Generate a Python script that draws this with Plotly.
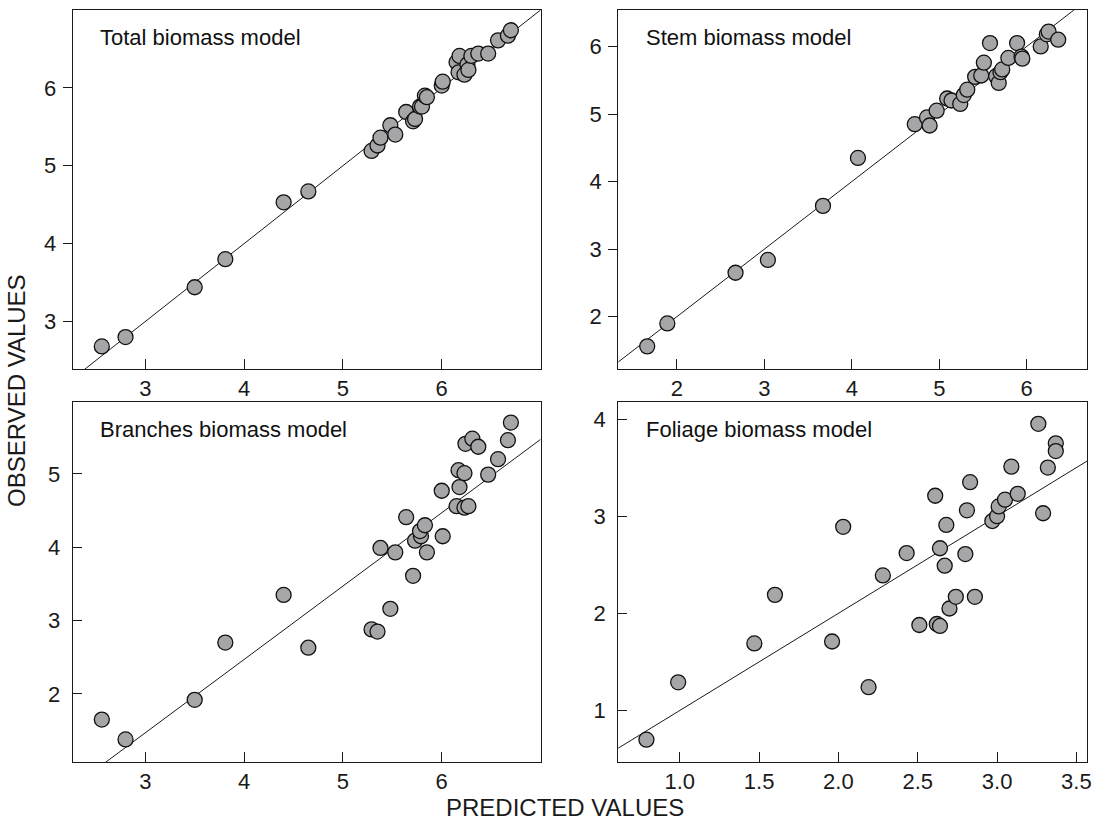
import plotly.graph_objects as go

# ---------------- data ----------------
panel_titles = ["Total biomass model", "Stem biomass model",
                "Branches biomass model", "Foliage biomass model"]

total_pred = [2.56, 2.80, 3.50, 3.81, 4.40, 4.65, 5.29, 5.35, 5.38, 5.48, 5.53, 5.64,
              5.71, 5.73, 5.78, 5.80, 5.83, 5.85, 6.00, 6.01, 6.15, 6.17, 6.18, 6.23,
              6.26, 6.27, 6.30, 6.37, 6.47, 6.57, 6.67, 6.70]
total_obs = [2.68, 2.80, 3.44, 3.80, 4.53, 4.67, 5.19, 5.26, 5.36, 5.52, 5.40, 5.69,
             5.57, 5.60, 5.76, 5.76, 5.90, 5.88, 6.03, 6.08, 6.33, 6.20, 6.41, 6.17,
             6.30, 6.23, 6.41, 6.44, 6.44, 6.61, 6.67, 6.74]

stem_pred = [1.66, 1.89, 2.67, 3.04, 3.67, 4.07, 4.72, 4.86, 4.89, 4.97, 5.09, 5.14,
             5.24, 5.28, 5.32, 5.41, 5.48, 5.51, 5.58, 5.65, 5.68, 5.70, 5.72, 5.79,
             5.89, 5.94, 5.95, 6.16, 6.23, 6.25, 6.36]
stem_obs = [1.56, 1.90, 2.65, 2.84, 3.64, 4.35, 4.85, 4.95, 4.83, 5.05, 5.23, 5.20,
            5.15, 5.28, 5.36, 5.55, 5.57, 5.76, 6.05, 5.56, 5.46, 5.62, 5.66, 5.83,
            6.05, 5.85, 5.82, 6.00, 6.18, 6.22, 6.10]

branch_pred = [2.56, 2.80, 3.50, 3.81, 4.40, 4.65, 5.29, 5.35, 5.38, 5.48, 5.53, 5.64,
               5.71, 5.73, 5.79, 5.78, 5.83, 5.85, 6.01, 6.00, 6.15, 6.18, 6.17, 6.23,
               6.23, 6.27, 6.24, 6.31, 6.37, 6.47, 6.57, 6.67, 6.70]
branch_obs = [1.65, 1.38, 1.92, 2.70, 3.35, 2.63, 2.88, 2.85, 3.99, 3.16, 3.93, 4.41,
              3.61, 4.09, 4.15, 4.22, 4.30, 3.93, 4.15, 4.77, 4.56, 4.82, 5.05, 5.01,
              4.54, 4.56, 5.41, 5.48, 5.37, 4.99, 5.20, 5.46, 5.70]

foliage_pred = [0.79, 0.99, 1.47, 1.60, 1.96, 2.03, 2.19, 2.28, 2.43, 2.51, 2.61, 2.62,
                2.64, 2.64, 2.67, 2.68, 2.70, 2.74, 2.80, 2.81, 2.83, 2.86, 2.97, 3.00,
                3.01, 3.05, 3.09, 3.13, 3.26, 3.29, 3.32, 3.37, 3.37]
foliage_obs = [0.70, 1.29, 1.69, 2.19, 1.71, 2.89, 1.24, 2.39, 2.62, 1.88, 3.21, 1.89,
               1.87, 2.67, 2.49, 2.91, 2.05, 2.17, 2.61, 3.06, 3.35, 2.17, 2.95, 3.00,
               3.10, 3.17, 3.51, 3.23, 3.95, 3.03, 3.50, 3.75, 3.67]

# reference lines: observed = intercept + slope * predicted
line_intercept = [0.0, 0.0, -1.53, 0.0]
line_slope = [1.0, 1.0, 1.0, 1.0]

x_ranges = [[2.265, 7.0], [1.328, 6.69], [2.265, 7.0], [0.612, 3.567]]
y_ranges = [[2.39, 7.0], [1.225, 6.54], [1.072, 5.98], [0.47, 4.175]]
x_ticks = [[3, 4, 5, 6], [2, 3, 4, 5, 6], [3, 4, 5, 6], [1.0, 1.5, 2.0, 2.5, 3.0, 3.5]]
y_ticks = [[3, 4, 5, 6], [2, 3, 4, 5, 6], [2, 3, 4, 5], [1, 2, 3, 4]]

preds = [total_pred, stem_pred, branch_pred, foliage_pred]
obs = [total_obs, stem_obs, branch_obs, foliage_obs]

# ---------------- figure ----------------
W, H = 1103, 825
FONT = "Liberation Sans, Arial, Helvetica, sans-serif"
fig = go.Figure()

# pixel boxes of panels in page coordinates (left, right, top, bottom)
boxes = [(73, 543, 10, 369), (621, 1092, 10, 369),
         (73, 543, 402, 762), (621, 1092, 402, 762)]


def fx(px):
    return px / W


def fy(py):
    return 1 - py / H


for i in range(4):
    xa = "x" if i == 0 else f"x{i+1}"
    ya = "y" if i == 0 else f"y{i+1}"
    l, r, t, b = boxes[i]
    x0, x1 = x_ranges[i]
    fig.add_trace(go.Scatter(
        x=[x0, x1],
        y=[line_intercept[i] + line_slope[i] * x0, line_intercept[i] + line_slope[i] * x1],
        mode="lines", line=dict(color="#1a1a1a", width=1),
        xaxis=xa, yaxis=ya, showlegend=False, hoverinfo="skip"))
    fig.add_trace(go.Scatter(
        x=preds[i], y=obs[i], mode="markers",
        marker=dict(size=15, color="#a6a6a8", line=dict(color="#111111", width=1.3)),
        xaxis=xa, yaxis=ya, showlegend=False, cliponaxis=True))
    is_float = i == 3
    common = dict(showline=True, linecolor="#1a1a1a", linewidth=1, mirror=True,
                  showgrid=False, zeroline=False,
                  tickfont=dict(family=FONT, size=22, color="#1a1a1a"),
                  tickcolor="#1a1a1a", tickwidth=1)
    xkw = dict(common, domain=[fx(l), fx(r)], range=x_ranges[i],
               tickmode="array", tickvals=x_ticks[i],
               ticktext=[(f"{v:.1f}" if is_float else f"{v:g}") for v in x_ticks[i]],
               ticks="inside", ticklen=10, anchor=ya)
    ykw = dict(common, domain=[fy(b), fy(t)], range=y_ranges[i],
               tickmode="array", tickvals=y_ticks[i],
               ticktext=[f"{v:g}" for v in y_ticks[i]],
               ticks="outside" if i < 2 else "inside", ticklen=9, anchor=xa,
               ticklabelstandoff=2 if i < 2 else 7)
    key = "" if i == 0 else str(i + 1)
    fig.update_layout(**{f"xaxis{key}": xkw, f"yaxis{key}": ykw})

    fig.add_annotation(text=panel_titles[i], xref=f"{xa} domain", yref=f"{ya} domain",
                       x=0.055, y=0.924, xanchor="left", yanchor="middle",
                       showarrow=False, font=dict(family=FONT, size=22, color="#111111"))

fig.add_annotation(text="OBSERVED VALUES", xref="paper", yref="paper",
                   x=fx(17), y=fy(390), textangle=-90, showarrow=False,
                   xanchor="center", yanchor="middle",
                   font=dict(family=FONT, size=24, color="#1a1a1a"))
fig.add_annotation(text="PREDICTED VALUES", xref="paper", yref="paper",
                   x=fx(568), y=fy(807), showarrow=False,
                   xanchor="center", yanchor="middle",
                   font=dict(family=FONT, size=24, color="#1a1a1a"))

fig.update_layout(width=W, height=H, margin=dict(l=0, r=0, t=0, b=0),
                  paper_bgcolor="white", plot_bgcolor="white")

# remove the default 8px page margin so the figure fills the window exactly
fig.write_html("out.html", config={"displayModeBar": False},
               post_script="document.body.style.margin='0';")
